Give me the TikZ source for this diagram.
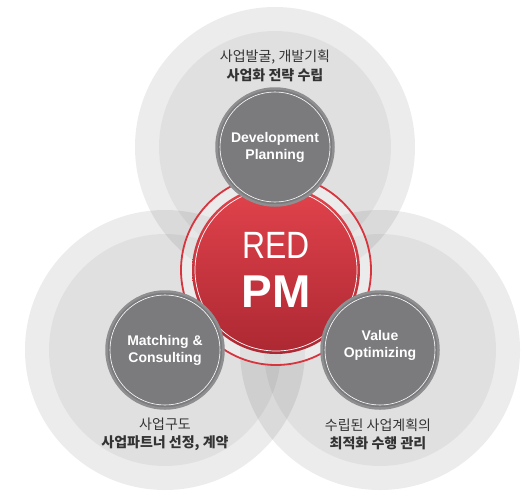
\documentclass[tikz,border=0pt]{standalone}
\usepackage{fontspec}
\setmainfont{Liberation Sans}
\newfontfamily\krfont{Noto Sans CJK KR}

\definecolor{ringred}{HTML}{D8343E}
\definecolor{coretop}{HTML}{E2434C}
\definecolor{corebot}{HTML}{AC2832}
\definecolor{fieldgray}{HTML}{7B7B7E}
\definecolor{fieldedge}{HTML}{8E8E90}
\definecolor{krdark}{HTML}{333333}

\tikzset{
  field/.style={circle,minimum size=117pt,inner sep=0pt,fill=fieldgray,
    draw=fieldedge,line width=2.5pt,text=white,align=center,
    font=\bfseries\fontsize{14}{17}\selectfont},
  core/.style={circle,minimum size=168pt,inner sep=0pt,
    top color=coretop,bottom color=corebot},
  krtext/.style={align=center,text=krdark,inner sep=0pt,
    font=\krfont\fontsize{14}{18.5}\selectfont}
}

\begin{document}
\begin{tikzpicture}[x=1pt,y=-1pt]
\useasboundingbox (0,0) rectangle (527,493);

% Centres of the three fields and of the core
\coordinate (cdev) at (275,147);
\coordinate (cmat) at (165,350);
\coordinate (cval) at (380,350);
\coordinate (ccore) at (276,270);

% Big translucent discs behind everything
\foreach \c in {cdev,cmat,cval}{
  \fill[black,opacity=.075] (\c) circle[radius=140pt];
  \fill[black,opacity=.05] (\c) circle[radius=116pt];
}

% Red core with its ring
\fill[white,opacity=.35] (ccore) circle[radius=95pt];
\draw[ringred,line width=1.8pt] (ccore) circle[radius=95pt];
\node[core] (core) at (ccore) {};
\draw[white,line width=.7pt] (ccore) circle[radius=81pt];
\node[text=white,xscale=.84,font=\fontsize{38}{38}\selectfont] (red) at (276,245.5) {RED};
\node[text=white,font=\bfseries\fontsize{46}{46}\selectfont] (pm) at (276,291.5) {PM};

% The three fields
\node[field] (dev) at (cdev) {Development\\Planning};
\node[field] (mat) at (cmat) {Matching \&\\Consulting};
\node[field] (val) at (cval) {};
\node[text=white,align=center,font=\bfseries\fontsize{14}{17}\selectfont] (valtxt) at (380,345) {Value\\Optimizing};
\foreach \c in {dev,mat,val}
  \draw[white,line width=.6pt] (\c) circle[radius=55pt];

% Korean captions
\node[krtext] (devcap) at (275,66) {사업발굴, 개발기획\\\textbf{사업화 전략 수립}};
\node[krtext] (matcap) at (165,434.5) {사업구도\\\textbf{사업파트너 선정, 계약}};
\node[krtext] (valcap) at (378,434.5) {수립된 사업계획의\\\textbf{최적화 수행 관리}};
\end{tikzpicture}
\end{document}
